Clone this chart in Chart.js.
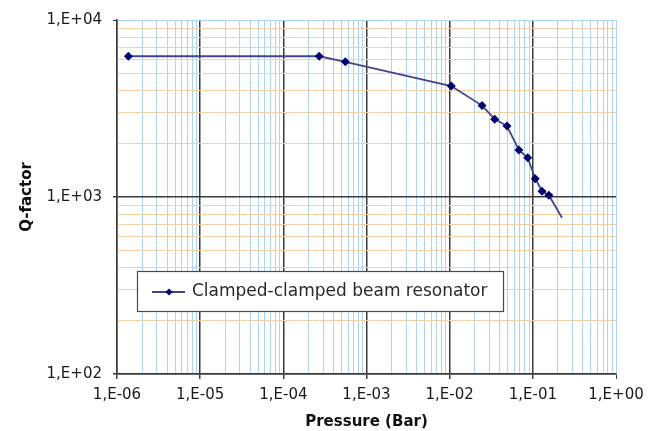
<!DOCTYPE html>
<html>
<head>
<meta charset="utf-8">
<script src="https://cdn.jsdelivr.net/npm/chart.js@4/dist/chart.umd.min.js"></script>
<style>
html,body{margin:0;padding:0;background:#fff;}
#wrap{width:657px;height:431px;position:relative;}
</style>
</head>
<body>
<div id="wrap"><canvas id="c" width="657" height="431"></canvas></div>
<script>
const seriesLabel = 'Clamped-clamped beam resonator';
const pressure = [1.37e-6, 2.70e-4, 5.56e-4, 1.045e-2, 0.0245, 0.0348, 0.0489, 0.068, 0.0867, 0.107, 0.129, 0.156, 0.224];
const qFactor  = [6240, 6240, 5800, 4236, 3284, 2754, 2516, 1845, 1665, 1269, 1077, 1023, 763];
const showMarker = [1,1,1,1,1,1,1,1,1,1,1,1,0];
const xDecades = [-6, -5, -4, -3, -2, -1, 0];
const yDecades = [2, 3, 4];

const FONT = 'DejaVu Sans';
const LIGHT_BLUE = '#aed3f2';
const LIGHT_ORANGE = '#f7cfa6';
const DARK = '#3a3a3a';

function isDecade(v){ const l = Math.log10(v); return Math.abs(l - Math.round(l)) < 1e-6; }
function fmt(v){
  const e = Math.round(Math.log10(v));
  const s = e < 0 ? '-' : '+';
  const a = Math.abs(e);
  return '1,E' + s + (a < 10 ? '0' + a : a);
}
function buildTicks(decs){
  const t = [];
  for (let i = 0; i < decs.length; i++) {
    const e = decs[i];
    if (i < decs.length - 1) { for (let m = 1; m <= 9; m++) t.push({value: m * Math.pow(10, e)}); }
    else t.push({value: Math.pow(10, e)});
  }
  return t;
}

const points = pressure.map((p, i) => ({x: p, y: qFactor[i]}));

const legendPlugin = {
  id: 'boxLegend',
  afterDraw(chart){
    const ctx = chart.ctx;
    const x0 = 137, y0 = 271, w = 366, h = 40;
    ctx.save();
    ctx.fillStyle = '#ffffff';
    ctx.fillRect(x0, y0, w, h);
    ctx.strokeStyle = '#4a4a4a';
    ctx.lineWidth = 1.2;
    ctx.strokeRect(x0 + 0.5, y0 + 0.5, w, h);
    const cy = y0 + h / 2 + 1;
    ctx.strokeStyle = '#44448c';
    ctx.lineWidth = 1.8;
    ctx.beginPath(); ctx.moveTo(152, cy); ctx.lineTo(185, cy); ctx.stroke();
    ctx.fillStyle = '#000070';
    ctx.beginPath(); ctx.moveTo(169, cy - 3.5); ctx.lineTo(172.5, cy); ctx.lineTo(169, cy + 3.5); ctx.lineTo(165.5, cy); ctx.closePath(); ctx.fill();
    ctx.fillStyle = '#2a2a2a';
    ctx.font = '17px "' + FONT + '"';
    ctx.textBaseline = 'middle';
    ctx.textAlign = 'left';
    ctx.fillText(chart.data.datasets[0].label, 192, cy);
    ctx.restore();
  }
};

new Chart(document.getElementById('c'), {
  type: 'line',
  data: {
    datasets: [{
      label: seriesLabel,
      data: points,
      borderColor: '#44448c',
      backgroundColor: '#000070',
      borderWidth: 1.8,
      pointStyle: 'rectRot',
      pointRadius: showMarker.map(s => s ? 4.5 : 0),
      pointBackgroundColor: '#000070',
      pointBorderColor: '#000070',
      pointBorderWidth: 0,
      tension: 0,
      fill: false
    }]
  },
  options: {
    responsive: false,
    animation: false,
    devicePixelRatio: 1,
    layout: { padding: { top: 17, right: 41, left: 0, bottom: 0 } },
    plugins: { legend: { display: false }, tooltip: { enabled: false } },
    scales: {
      x: {
        type: 'logarithmic',
        min: 1e-6, max: 1,
        afterBuildTicks(s){ s.ticks = buildTicks(xDecades); },
        afterFit(s){ s.height = 57; },
        grid: {
          color: c => (c.tick && isDecade(c.tick.value) && c.tick.value < 0.5) ? DARK : LIGHT_BLUE,
          lineWidth: c => (c.tick && isDecade(c.tick.value) && c.tick.value < 0.5) ? 1.5 : 1,
          tickColor: c => (c.tick && isDecade(c.tick.value)) ? DARK : 'rgba(0,0,0,0)',
          tickLength: 5,
          drawOnChartArea: true
        },
        border: { color: DARK, width: 1.5 },
        ticks: {
          autoSkip: false,
          maxRotation: 0,
          padding: 7,
          color: '#1a1a1a',
          font: { family: FONT, size: 15 },
          callback(v){ return isDecade(v) ? fmt(v) : ''; }
        },
        title: {
          display: true,
          text: 'Pressure (Bar)',
          color: '#111',
          font: { family: FONT, size: 15, weight: 'bold' },
          padding: { top: 1, bottom: 0 }
        }
      },
      y: {
        type: 'logarithmic',
        min: 100, max: 10000,
        afterBuildTicks(s){ s.ticks = buildTicks(yDecades); },
        afterFit(s){ s.width = 117; },
        grid: {
          color: c => (c.tick && isDecade(c.tick.value) && c.tick.value < 5000) ? DARK : (c.tick && c.tick.value > 5000 && isDecade(c.tick.value) ? LIGHT_BLUE : LIGHT_ORANGE),
          lineWidth: c => (c.tick && isDecade(c.tick.value) && c.tick.value < 5000) ? 1.5 : 1,
          tickColor: c => (c.tick && isDecade(c.tick.value)) ? DARK : 'rgba(0,0,0,0)',
          tickLength: 4
        },
        border: { color: DARK, width: 1.5 },
        ticks: {
          autoSkip: false,
          padding: 11,
          color: '#1a1a1a',
          font: { family: FONT, size: 15 },
          callback(v){ return isDecade(v) ? fmt(v) : ''; }
        },
        title: {
          display: true,
          text: 'Q-factor',
          color: '#111',
          font: { family: FONT, size: 15, weight: 'bold' },
          padding: { top: 18, bottom: 0 }
        }
      }
    }
  },
  plugins: [legendPlugin]
});
</script>
</body>
</html>
